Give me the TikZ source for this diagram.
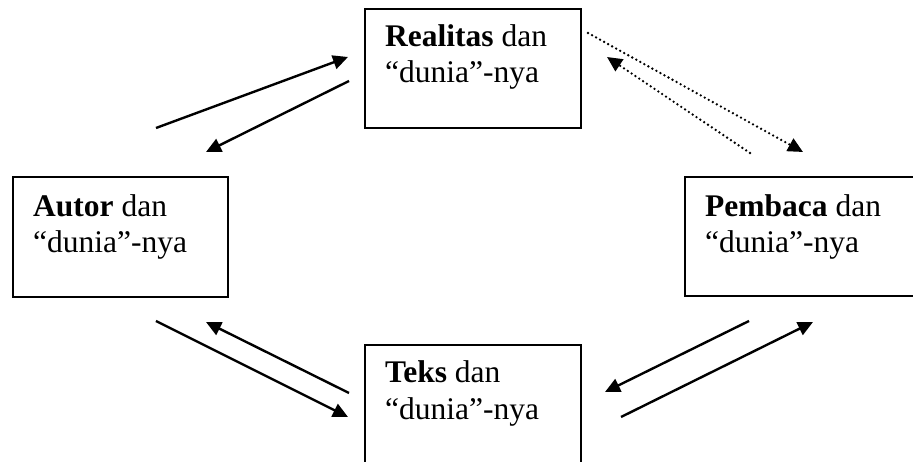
\documentclass[tikz,border=0pt]{standalone}
\usepackage{fontspec}
\setmainfont{Liberation Serif}
\usetikzlibrary{arrows.meta}
\begin{document}
\begin{tikzpicture}[x=1pt,y=1pt,
  box/.style={draw=black,line width=2.7pt,rectangle,inner sep=0pt},
  lbl/.style={anchor=base west,inner sep=0pt,font=\fontsize{31.5}{36}\selectfont},
  arr/.style={line width=2.4pt,-{Triangle[length=15pt,width=14pt]}},
  dotarr/.style={line width=2.6pt,line cap=round,dash pattern=on 0pt off 4.6pt,-{Triangle[length=15pt,width=14pt]}}]
\useasboundingbox (0,0) rectangle (913,462);
% boxes
\node[box,minimum width=216pt,minimum height=119pt] (real) at (473,393.5) {};
\node[box,minimum width=215pt,minimum height=120pt] (autor) at (120.5,225) {};
\node[box,minimum width=285pt,minimum height=119pt] (pemb) at (827.5,225.5) {};
\node[box,minimum width=216pt,minimum height=135pt] (teks) at (473,49.5) {};
% texts
\node[lbl] (real1) at (385,415) {\textbf{Realitas} dan};
\node[lbl] (real2) at (385,379) {“dunia”-nya};
\node[lbl] (aut1) at (33,245) {\textbf{Autor} dan};
\node[lbl] (aut2) at (33,209) {“dunia”-nya};
\node[lbl] (pem1) at (705,245) {\textbf{Pembaca} dan};
\node[lbl] (pem2) at (705,209) {“dunia”-nya};
\node[lbl] (tek1) at (385,79) {\textbf{Teks} dan};
\node[lbl] (tek2) at (385,42) {“dunia”-nya};
% connector ends
\coordinate (a1s) at (156,334); \coordinate (a1e) at (348,405);
\coordinate (a2s) at (349,381); \coordinate (a2e) at (206,310);
\coordinate (d1s) at (588,429); \coordinate (d1e) at (803,310);
\coordinate (d2s) at (750,309); \coordinate (d2e) at (607,405);
\coordinate (b1s) at (156,141); \coordinate (b1e) at (348,45);
\coordinate (b2s) at (349,69);  \coordinate (b2e) at (206,140);
\coordinate (c1s) at (749,141); \coordinate (c1e) at (605,70);
\coordinate (c2s) at (621,45);  \coordinate (c2e) at (813,140);
% arrows
\draw[arr] (a1s) -- (a1e);
\draw[arr] (a2s) -- (a2e);
\draw[dotarr] (d1s) -- (d1e);
\draw[dotarr] (d2s) -- (d2e);
\draw[arr] (b1s) -- (b1e);
\draw[arr] (b2s) -- (b2e);
\draw[arr] (c1s) -- (c1e);
\draw[arr] (c2s) -- (c2e);
\end{tikzpicture}
\end{document}
